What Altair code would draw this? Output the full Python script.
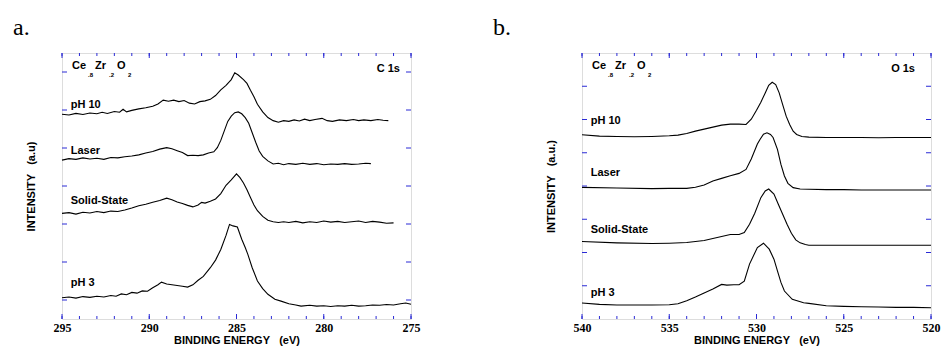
import altair as alt
import pandas as pd

# ---------------- data ----------------
series_names = ["pH 10", "Laser", "Solid-State", "pH 3"]

# Panel a: C 1s
c_ph10_x = [295.0, 294.6, 294.2, 293.8, 293.4, 293.0, 292.7, 292.4, 292.0, 291.7, 291.5, 291.3, 291.0, 290.6, 290.2, 289.8, 289.5, 289.2, 288.9, 288.6, 288.3, 288.0, 287.7, 287.4, 287.1, 286.8, 286.5, 286.2, 285.9, 285.6, 285.3, 285.1, 284.9, 284.6, 284.4, 284.2, 284.0, 283.8, 283.5, 283.2, 282.9, 282.6, 282.3, 282.0, 281.7, 281.4, 281.1, 280.8, 280.5, 280.1, 279.8, 279.5, 279.1, 278.7, 278.3, 278.0, 277.7, 277.3, 276.9, 276.6, 276.3]
c_ph10_y = [5.39, 5.37, 5.41, 5.38, 5.42, 5.40, 5.44, 5.41, 5.46, 5.44, 5.52, 5.45, 5.49, 5.53, 5.56, 5.60, 5.66, 5.76, 5.73, 5.76, 5.72, 5.75, 5.68, 5.66, 5.72, 5.74, 5.78, 5.88, 6.03, 6.15, 6.30, 6.48, 6.42, 6.30, 6.20, 6.02, 5.85, 5.65, 5.45, 5.30, 5.22, 5.18, 5.22, 5.20, 5.24, 5.21, 5.26, 5.22, 5.25, 5.28, 5.22, 5.20, 5.24, 5.22, 5.25, 5.22, 5.24, 5.22, 5.25, 5.23, 5.22]

c_laser_x = [295.0, 294.6, 294.2, 293.8, 293.4, 293.0, 292.6, 292.2, 291.8, 291.4, 291.0, 290.6, 290.2, 289.8, 289.4, 289.0, 288.7, 288.4, 288.1, 287.8, 287.5, 287.2, 286.9, 286.6, 286.3, 286.1, 285.9, 285.7, 285.5, 285.3, 285.1, 284.9, 284.7, 284.5, 284.3, 284.1, 283.9, 283.7, 283.5, 283.2, 282.9, 282.6, 282.3, 282.0, 281.6, 281.2, 280.8, 280.4, 280.0, 279.6, 279.2, 278.8, 278.4, 278.0, 277.6, 277.3]
c_laser_y = [4.18, 4.22, 4.20, 4.24, 4.21, 4.23, 4.20, 4.25, 4.24, 4.27, 4.29, 4.32, 4.37, 4.41, 4.47, 4.51, 4.48, 4.43, 4.38, 4.30, 4.31, 4.30, 4.32, 4.37, 4.40, 4.51, 4.70, 4.95, 5.20, 5.34, 5.43, 5.45, 5.40, 5.30, 5.15, 4.90, 4.65, 4.42, 4.28, 4.16, 4.08, 4.10, 4.06, 4.09, 4.07, 4.10, 4.07, 4.09, 4.06, 4.08, 4.07, 4.09, 4.07, 4.08, 4.10, 4.09]

c_solid_x = [295.0, 294.6, 294.2, 293.8, 293.4, 293.0, 292.6, 292.2, 291.8, 291.4, 291.0, 290.6, 290.2, 289.8, 289.4, 289.0, 288.7, 288.4, 288.1, 287.8, 287.5, 287.2, 287.0, 286.8, 286.5, 286.2, 285.9, 285.6, 285.3, 285.0, 284.8, 284.6, 284.4, 284.2, 284.0, 283.8, 283.5, 283.2, 282.9, 282.6, 282.3, 282.0, 281.6, 281.2, 280.8, 280.4, 280.0, 279.6, 279.2, 278.8, 278.4, 278.0, 277.6, 277.2, 276.8, 276.4, 276.0]
c_solid_y = [2.78, 2.80, 2.76, 2.81, 2.79, 2.83, 2.80, 2.84, 2.83, 2.87, 2.92, 2.98, 3.02, 3.07, 3.12, 3.18, 3.14, 3.08, 3.04, 2.99, 2.95, 3.00, 3.07, 3.05, 3.10, 3.16, 3.30, 3.52, 3.66, 3.82, 3.72, 3.58, 3.40, 3.20, 3.00, 2.85, 2.70, 2.60, 2.56, 2.54, 2.56, 2.54, 2.57, 2.53, 2.56, 2.54, 2.58, 2.55, 2.57, 2.54, 2.56, 2.58, 2.54, 2.57, 2.55, 2.52, 2.53]

c_ph3_x = [295.0, 294.6, 294.2, 293.8, 293.4, 293.0, 292.6, 292.2, 291.9, 291.6, 291.3, 291.0, 290.7, 290.4, 290.1, 289.8, 289.5, 289.3, 289.0, 288.7, 288.4, 288.1, 287.8, 287.5, 287.2, 286.9, 286.5, 286.2, 285.9, 285.6, 285.4, 285.2, 284.95, 284.7, 284.5, 284.35, 284.1, 283.8, 283.5, 283.2, 282.8, 282.45, 282.0, 281.6, 281.3, 280.8, 280.4, 280.0, 279.6, 279.2, 278.8, 278.4, 278.0, 277.6, 277.2, 276.8, 276.4, 276.0, 275.6, 275.3, 275.0]
c_ph3_y = [0.56, 0.58, 0.55, 0.59, 0.57, 0.60, 0.58, 0.62, 0.60, 0.66, 0.64, 0.70, 0.68, 0.74, 0.73, 0.82, 0.90, 0.97, 0.92, 0.90, 0.88, 0.86, 0.84, 0.90, 1.02, 1.12, 1.35, 1.55, 1.83, 2.20, 2.49, 2.45, 2.42, 2.10, 1.88, 1.70, 1.35, 1.00, 0.80, 0.65, 0.52, 0.47, 0.40, 0.37, 0.34, 0.36, 0.34, 0.35, 0.33, 0.35, 0.34, 0.36, 0.34, 0.35, 0.37, 0.36, 0.38, 0.37, 0.40, 0.42, 0.39]

# Panel b: O 1s
o_ph10_x = [540.0, 539.0, 538.0, 537.0, 536.0, 535.0, 534.5, 534.0, 533.5, 533.0, 532.5, 532.0, 531.5, 531.0, 530.6, 530.3, 530.0, 529.75, 529.5, 529.3, 529.1, 528.9, 528.7, 528.5, 528.3, 528.1, 527.9, 527.7, 527.4, 527.0, 526.0, 525.0, 524.0, 523.0, 522.0, 521.0, 520.0]
o_ph10_y = [5.54, 5.50, 5.49, 5.48, 5.49, 5.51, 5.53, 5.58, 5.65, 5.71, 5.77, 5.83, 5.86, 5.86, 5.85, 6.01, 6.28, 6.52, 6.80, 7.03, 7.12, 7.05, 6.80, 6.45, 6.10, 5.85, 5.65, 5.55, 5.49, 5.47, 5.46, 5.46, 5.46, 5.45, 5.46, 5.46, 5.46]

o_laser_x = [540.0, 538.0, 536.0, 535.0, 534.0, 533.5, 533.0, 532.5, 532.0, 531.5, 531.0, 530.6, 530.3, 529.95, 529.8, 529.6, 529.4, 529.2, 529.05, 528.8, 528.6, 528.4, 528.2, 527.9, 527.5, 527.0, 526.0, 525.0, 524.0, 523.0, 522.0, 521.0, 520.0]
o_laser_y = [3.96, 3.94, 3.92, 3.93, 3.93, 3.96, 4.03, 4.15, 4.23, 4.31, 4.38, 4.50, 4.81, 5.26, 5.40, 5.56, 5.60, 5.55, 5.46, 5.10, 4.65, 4.30, 4.08, 3.95, 3.91, 3.90, 3.89, 3.89, 3.88, 3.88, 3.88, 3.88, 3.88]

o_solid_x = [540.0, 538.0, 536.0, 535.0, 534.0, 533.0, 532.5, 532.0, 531.5, 531.0, 530.7, 530.4, 530.1, 529.75, 529.5, 529.3, 529.0, 528.75, 528.5, 528.25, 528.0, 527.75, 527.5, 527.2, 527.0, 526.0, 524.0, 522.0, 520.0]
o_solid_y = [2.33, 2.29, 2.27, 2.28, 2.30, 2.36, 2.42, 2.48, 2.54, 2.54, 2.60, 2.85, 3.18, 3.65, 3.85, 3.91, 3.76, 3.45, 3.15, 2.85, 2.58, 2.38, 2.29, 2.24, 2.22, 2.22, 2.22, 2.22, 2.22]

o_ph3_x = [540.0, 539.0, 538.0, 537.0, 536.0, 535.0, 534.5, 534.0, 533.5, 533.0, 532.5, 532.0, 531.7, 531.3, 531.0, 530.7, 530.4, 529.95, 529.6, 529.27, 529.0, 528.8, 528.6, 528.4, 527.95, 527.3, 527.0, 526.0, 525.0, 524.0, 523.0, 522.0, 521.0, 520.0]
o_ph3_y = [0.48, 0.44, 0.42, 0.42, 0.42, 0.43, 0.46, 0.55, 0.66, 0.78, 0.90, 1.04, 1.02, 1.03, 1.03, 1.14, 1.65, 2.15, 2.28, 2.10, 1.80, 1.45, 1.10, 0.84, 0.59, 0.49, 0.47, 0.40, 0.38, 0.37, 0.36, 0.35, 0.35, 0.34]

# axis ticks / domains
c_domain = [275, 295]
o_domain = [520, 540]
c_major = [295, 290, 285, 280, 275]
o_major = [540, 535, 530, 525, 520]
c_minor = list(range(275, 296))
o_minor = list(range(520, 541))
c_ydomain = [0, 7]
o_ydomain = [0, 8]
c_yticks = [0.5, 1.5, 2.5, 3.5, 4.5, 5.5, 6.5]
o_yticks = [1, 2, 3, 4, 5, 6, 7]

# label positions (x in eV, y in intensity units)
c_label_x = 294.5
c_label_y = [5.63, 4.42, 3.11, 0.94]
o_label_x = 539.5
o_label_y = [5.96, 4.38, 2.69, 0.77]

NB = "\u00a0"
x_title = "BINDING ENERGY" + NB * 3 + "(eV)"
c_y_title = "INTENSITY" + NB * 3 + "(a.u)"
o_y_title = "INTENSITY" + NB * 3 + "(a.u.)"

# ---------------- styling ----------------
W, H = 349, 266
BLUE = "#2a2ad6"
SANS = "Liberation Sans"
SERIF = "Liberation Serif"


def panel(letter, core, xs, ys, domain, major, minor, ydomain, yticks,
          label_x, label_y, ytitle):
    rows = []
    for name, xv, yv in zip(series_names, xs, ys):
        for a, b in zip(xv, yv):
            rows.append({"series": name, "energy": a, "intensity": b})
    df = pd.DataFrame(rows)

    xscale = alt.Scale(domain=domain, reverse=True, zero=False, nice=False)
    yscale = alt.Scale(domain=ydomain, zero=False, nice=False)

    base = alt.Chart(df)
    lines = base.mark_line(color="black", strokeWidth=1.1).encode(
        x=alt.X("energy:Q", scale=xscale,
                axis=alt.Axis(values=major, format="d", ticks=False, domain=False,
                              grid=False, labelFont=SERIF, labelFontWeight="bold",
                              labelFontSize=12, labelColor="black",
                              labelPadding=3, labelFlush=False, labelOverlap=False,
                              title=x_title, titleFont=SANS,
                              titleFontSize=11, titleFontWeight="bold",
                              titleColor="black", titlePadding=1)),
        y=alt.Y("intensity:Q", scale=yscale,
                axis=alt.Axis(labels=False, ticks=False, domain=False, grid=False,
                              title=ytitle, titleFont=SANS, titleFontSize=11,
                              titleFontWeight="bold", titleColor="black",
                              titlePadding=26)),
        detail="series:N",
    )

    majdf = pd.DataFrame({"t": major})
    mindf = pd.DataFrame({"t": minor})
    ydf = pd.DataFrame({"t": yticks})
    tick_layers = []
    for dfx, ln in [(majdf, 5), (mindf, 3)]:
        tick_layers.append(alt.Chart(dfx).mark_rule(color=BLUE, strokeWidth=1).encode(
            x=alt.X("t:Q", scale=xscale), y=alt.value(0), y2=alt.value(ln)))
        tick_layers.append(alt.Chart(dfx).mark_rule(color=BLUE, strokeWidth=1).encode(
            x=alt.X("t:Q", scale=xscale), y=alt.value(H), y2=alt.value(H - ln)))
    tick_layers.append(alt.Chart(ydf).mark_rule(color=BLUE, strokeWidth=1).encode(
        y=alt.Y("t:Q", scale=yscale), x=alt.value(0), x2=alt.value(5)))
    tick_layers.append(alt.Chart(ydf).mark_rule(color=BLUE, strokeWidth=1).encode(
        y=alt.Y("t:Q", scale=yscale), x=alt.value(W), x2=alt.value(W - 5)))

    labdf = pd.DataFrame({"name": series_names, "lx": [label_x] * 4, "ly": label_y})
    labels = alt.Chart(labdf).mark_text(
        align="left", baseline="middle", font=SANS, fontWeight="bold",
        fontSize=11, color="black").encode(
        x=alt.X("lx:Q", scale=xscale), y=alt.Y("ly:Q", scale=yscale), text="name:N")

    one = pd.DataFrame({"k": [letter]})
    letter_mark = alt.Chart(one).mark_text(
        align="left", baseline="alphabetic", font=SERIF, fontSize=24,
        color="black", text=letter + ".").encode(
        x=alt.value(-49 if letter == "a" else -89), y=alt.value(-18))

    core_mark = alt.Chart(one).mark_text(
        align="right", baseline="middle", font=SANS, fontWeight="bold",
        fontSize=11, color="black", text=core).encode(
        x=alt.value(W - 11 if letter == "a" else W - 16), y=alt.value(16))

    formula = []
    pieces = [("Ce", 0, 0, 11), (".8", 16, 9, 6), ("Zr", 23, 0, 11),
              (".2", 37, 9, 6), ("O", 45, 0, 11), ("2", 56, 9, 6)]
    for txt, dx, dy, fs in pieces:
        formula.append(alt.Chart(one).mark_text(
            align="left", baseline="middle", font=SANS, fontWeight="bold",
            fontSize=fs, color="black", text=txt).encode(
            x=alt.value(10 + dx), y=alt.value(13 + dy)))

    return alt.layer(lines, *tick_layers, labels, letter_mark, core_mark,
                     *formula).properties(width=W, height=H)


pa = panel("a", "C 1s", [c_ph10_x, c_laser_x, c_solid_x, c_ph3_x],
           [c_ph10_y, c_laser_y, c_solid_y, c_ph3_y], c_domain, c_major, c_minor,
           c_ydomain, c_yticks, c_label_x, c_label_y, c_y_title)
pb = panel("b", "O 1s", [o_ph10_x, o_laser_x, o_solid_x, o_ph3_x],
           [o_ph10_y, o_laser_y, o_solid_y, o_ph3_y], o_domain, o_major, o_minor,
           o_ydomain, o_yticks, o_label_x, o_label_y, o_y_title)

chart = alt.hconcat(pa, pb, spacing=171, bounds="flush").properties(
    padding={"left": 12, "top": 15, "right": 0, "bottom": 0},
).configure_view(stroke=BLUE, strokeWidth=1).configure(background="white")

chart.save("out.html", embed_options={"renderer": "svg", "actions": False})
